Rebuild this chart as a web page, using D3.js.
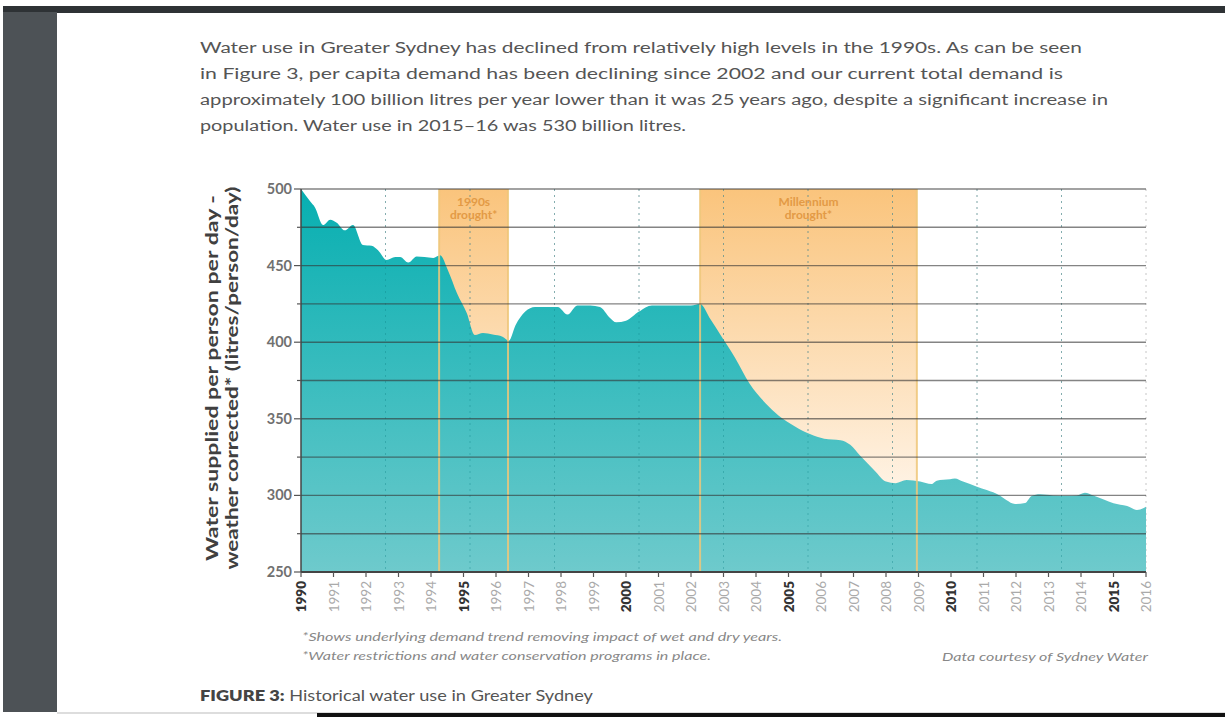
<!DOCTYPE html>
<html>
<head>
<meta charset="utf-8">
<script src="https://cdn.jsdelivr.net/npm/d3@7"></script>
<style>
  html, body { margin: 0; padding: 0; background: #fff; }
  svg { display: block; }
</style>
</head>
<body>
<svg id="chart" width="1225" height="717"></svg>
<script>
// per capita demand, litres/person/day (weather corrected)
const years = [
  1990.0, 1990.28, 1990.43, 1990.68, 1990.9, 1991.1, 1991.35, 1991.6, 1991.9, 1992.17,
  1992.37, 1992.63, 1992.9, 1993.05, 1993.3, 1993.56, 1993.8, 1994.07, 1994.28, 1994.52,
  1994.8, 1995.1, 1995.35, 1995.6, 1995.9, 1996.2, 1996.4, 1996.6, 1996.9, 1997.2,
  1997.6, 1997.9, 1998.2, 1998.5, 1998.9, 1999.2, 1999.5, 1999.7, 2000.0, 2000.4,
  2000.8, 2001.2, 2001.6, 2002.0, 2002.28, 2002.6, 2002.9, 2003.35, 2003.8, 2004.3,
  2004.7, 2005.2, 2005.66, 2006.1, 2006.6, 2006.9, 2007.2, 2007.66, 2008.0, 2008.3,
  2008.63, 2009.05, 2009.4, 2009.56, 2009.97, 2010.12, 2010.37, 2010.8, 2011.1, 2011.5,
  2011.7, 2011.97, 2012.28, 2012.48, 2012.74, 2013.14, 2013.56, 2013.87, 2014.12, 2014.38,
  2014.7, 2015.0, 2015.42, 2015.72, 2016.0
]
const demand = [
  500, 492, 488, 476.5, 480, 478, 473, 476.5, 463.5, 463,
  460, 453.7, 455.6, 455.6, 452, 456, 455.6, 455, 456.7, 447,
  432, 419, 404.7, 406, 405, 403.6, 401, 411, 420, 423,
  423, 423, 418, 424, 424, 423, 416, 413, 414, 420,
  424, 424, 424, 424, 425, 415, 405, 390, 373, 360,
  352, 345, 340, 337, 336, 333, 326, 316, 309, 308,
  310, 309, 307.4, 309.6, 310.5, 311, 309, 305.7, 303.5, 300,
  297, 294.4, 295, 299.6, 300.7, 300, 299.8, 300, 301.8, 300,
  297.4, 294.8, 293, 290.5, 292.6
]
const droughts = [
  { name: ['1990s', 'drought*'], start: 1994.25, end: 1996.37 },
  { name: ['Millennium', 'drought*'], start: 2002.28, end: 2008.95 },
]
const yTicks = [250, 300, 350, 400, 450, 500]
const yMinorTicks = [275, 325, 375, 425, 475]
const tickYears = d3.range(1990, 2017)
const paragraph = [
  'Water use in Greater Sydney has declined from relatively high levels in the 1990s. As can be seen',
  'in Figure 3, per capita demand has been declining since 2002 and our current total demand is',
  'approximately 100 billion litres per year lower than it was 25 years ago, despite a significant increase in',
  'population. Water use in 2015\u201316 was 530 billion litres.',
]
const paragraphWidths = [882, 863, 908, 486]
const yTitle = ['Water supplied per person per day -', 'weather corrected* (litres/person/day)']
const footnotes = [
  '*Shows underlying demand trend removing impact of wet and dry years.',
  '*Water restrictions and water conservation programs in place.',
]

const svg = d3.select('#chart')
const FONT = 'Lato, "Open Sans", sans-serif'

// page frame (screenshot of a document)
svg.append('rect').attr('width', 1225).attr('height', 717).attr('fill', '#fff')
svg.append('rect').attr('x', 3).attr('y', 6).attr('width', 1222).attr('height', 7).attr('fill', '#2e3235')
svg.append('rect').attr('x', 3).attr('y', 12).attr('width', 54).attr('height', 700).attr('fill', '#4d5256')
svg.append('rect').attr('x', 57).attr('y', 712).attr('width', 1168).attr('height', 2).attr('fill', '#ddd')
svg.append('rect').attr('x', 317).attr('y', 713).attr('width', 908).attr('height', 4).attr('fill', '#111')

// intro paragraph
svg.append('g')
  .selectAll('text')
  .data(paragraph)
  .join('text')
  .attr('x', 200)
  .attr('y', (d, i) => 53 + i * 26)
  .attr('font-family', FONT)
  .attr('font-size', 15.5)
  .attr('fill', '#555')
  .attr('textLength', (d, i) => paragraphWidths[i])
  .attr('lengthAdjust', 'spacingAndGlyphs')
  .text((d) => d)

// chart area
const margin = { left: 301, top: 189, right: 1146, bottom: 572 }
const x = d3.scaleLinear().domain([1990, 2016]).range([margin.left, margin.right])
const y = d3.scaleLinear().domain([250, 500]).range([margin.bottom, margin.top])

const defs = svg.append('defs')
const teal = defs.append('linearGradient').attr('id', 'teal')
  .attr('gradientUnits', 'userSpaceOnUse')
  .attr('x1', 0).attr('x2', 0).attr('y1', y(500)).attr('y2', y(250))
teal.append('stop').attr('offset', 0).attr('stop-color', '#07afb1')
teal.append('stop').attr('offset', 1).attr('stop-color', '#6ecacc')

const orange = defs.append('linearGradient').attr('id', 'orange')
  .attr('gradientUnits', 'userSpaceOnUse')
  .attr('x1', 0).attr('x2', 0).attr('y1', y(500)).attr('y2', y(290))
orange.append('stop').attr('offset', 0).attr('stop-color', '#fac47c')
orange.append('stop').attr('offset', 1).attr('stop-color', '#fff6ec')

const chart = svg.append('g').attr('id', 'viz')

// drought bands
chart.append('g')
  .selectAll('rect')
  .data(droughts)
  .join('rect')
  .attr('x', (d) => x(d.start))
  .attr('y', y(500))
  .attr('width', (d) => x(d.end) - x(d.start))
  .attr('height', y(250) - y(500))
  .attr('fill', 'url(#orange)')

// dotted verticals (ten equal divisions)
chart.append('g')
  .selectAll('line')
  .data(d3.range(1, 11))
  .join('line')
  .attr('x1', (d) => x(1990 + d * 2.6))
  .attr('x2', (d) => x(1990 + d * 2.6))
  .attr('y1', y(500))
  .attr('y2', y(250))
  .attr('stroke', '#9a9a9a')
  .attr('stroke-width', 1)
  .attr('stroke-dasharray', '2,4')
  .attr('opacity', 0.55)

// demand area
const area = d3.area()
  .x((d, i) => x(years[i]))
  .y0(y(250))
  .y1((d) => y(d))
  .curve(d3.curveMonotoneX)

chart.append('path')
  .datum(demand)
  .attr('d', area)
  .attr('fill', 'url(#teal)')

// dotted verticals over the teal
chart.append('g')
  .selectAll('line')
  .data(d3.range(1, 10))
  .join('line')
  .attr('x1', (d) => x(1990 + d * 2.6))
  .attr('x2', (d) => x(1990 + d * 2.6))
  .attr('y1', y(500))
  .attr('y2', y(250))
  .attr('stroke', '#0a7f83')
  .attr('stroke-width', 1)
  .attr('stroke-dasharray', '2,4')
  .attr('opacity', 0.35)

// drought band edges
chart.append('g')
  .selectAll('line')
  .data(droughts.flatMap((d) => [d.start, d.end]))
  .join('line')
  .attr('x1', (d) => x(d))
  .attr('x2', (d) => x(d))
  .attr('y1', y(500))
  .attr('y2', y(250))
  .attr('stroke', '#efc77a')
  .attr('stroke-width', 2)
  .attr('opacity', 0.85)

// horizontal gridlines
chart.append('g')
  .selectAll('line')
  .data(yTicks.concat(yMinorTicks).filter((d) => d > 250))
  .join('line')
  .attr('x1', margin.left)
  .attr('x2', margin.right)
  .attr('y1', (d) => y(d))
  .attr('y2', (d) => y(d))
  .attr('stroke', '#333')
  .attr('stroke-width', 1.4)
  .attr('opacity', 0.6)

// drought labels
const bandLabels = chart.append('g')
  .selectAll('text')
  .data(droughts)
  .join('text')
  .attr('x', (d) => x((d.start + d.end) / 2))
  .attr('y', 206)
  .attr('text-anchor', 'middle')
  .attr('font-family', FONT)
  .attr('font-size', 12)
  .attr('font-weight', 700)
  .attr('fill', '#e39a45')
bandLabels.selectAll('tspan')
  .data((d) => d.name)
  .join('tspan')
  .attr('x', function () { return d3.select(this.parentNode).attr('x') })
  .attr('dy', (d, i) => (i === 0 ? 0 : 13))
  .text((d) => d)

// y axis
const yAxis = chart.append('g')
yAxis.append('line')
  .attr('x1', margin.left).attr('x2', margin.left)
  .attr('y1', y(500)).attr('y2', y(250))
  .attr('stroke', '#444').attr('stroke-width', 1.5)
yAxis.selectAll('line.major')
  .data(yTicks)
  .join('line')
  .attr('class', 'major')
  .attr('x1', margin.left - 7).attr('x2', margin.left)
  .attr('y1', (d) => y(d)).attr('y2', (d) => y(d))
  .attr('stroke', '#555').attr('stroke-width', 1.2)
yAxis.selectAll('line.minor')
  .data(yMinorTicks)
  .join('line')
  .attr('class', 'minor')
  .attr('x1', margin.left - 4).attr('x2', margin.left)
  .attr('y1', (d) => y(d)).attr('y2', (d) => y(d))
  .attr('stroke', '#555').attr('stroke-width', 1.2)
yAxis.selectAll('text')
  .data(yTicks)
  .join('text')
  .attr('x', margin.left - 9)
  .attr('y', (d) => y(d) + 5)
  .attr('text-anchor', 'end')
  .attr('font-family', FONT)
  .attr('font-size', 14.5)
  .attr('font-weight', 700)
  .attr('fill', '#707070')
  .text((d) => d)

// y axis title
svg.append('g')
  .selectAll('text')
  .data(yTitle)
  .join('text')
  .attr('transform', (d, i) => `translate(${218 + i * 20},${378}) rotate(-90)`)
  .attr('text-anchor', 'middle')
  .attr('font-family', FONT)
  .attr('font-size', 17)
  .attr('font-weight', 700)
  .attr('fill', '#404040')
  .attr('textLength', (d, i) => (i === 0 ? 366 : 383))
  .attr('lengthAdjust', 'spacingAndGlyphs')
  .text((d) => d)

// x axis
const xAxis = chart.append('g')
xAxis.append('line')
  .attr('x1', margin.left).attr('x2', margin.right)
  .attr('y1', y(250)).attr('y2', y(250))
  .attr('stroke', '#444').attr('stroke-width', 1.8)
xAxis.selectAll('line.tick')
  .data(tickYears)
  .join('line')
  .attr('class', 'tick')
  .attr('x1', (d) => x(d)).attr('x2', (d) => x(d))
  .attr('y1', y(250)).attr('y2', y(250) + 5)
  .attr('stroke', '#555').attr('stroke-width', 1.2)
xAxis.selectAll('text')
  .data(tickYears)
  .join('text')
  .attr('transform', (d) => `translate(${x(d) + 5},${y(250) + 9}) rotate(-90)`)
  .attr('text-anchor', 'end')
  .attr('font-family', FONT)
  .attr('font-size', 13.5)
  .attr('font-weight', (d) => (d % 5 === 0 ? 800 : 400))
  .attr('fill', (d) => (d % 5 === 0 ? '#333' : '#aaa'))
  .text((d) => d)

// footnotes
svg.append('g')
  .selectAll('text')
  .data(footnotes)
  .join('text')
  .attr('x', 302)
  .attr('y', (d, i) => 641 + i * 19)
  .attr('font-family', FONT)
  .attr('font-size', 11.5)
  .attr('font-style', 'italic')
  .attr('fill', '#888')
  .attr('textLength', (d, i) => (i === 0 ? 480 : 409))
  .attr('lengthAdjust', 'spacingAndGlyphs')
  .text((d) => d)

svg.append('text')
  .attr('x', 942)
  .attr('y', 661)
  .attr('font-family', FONT)
  .attr('font-size', 12)
  .attr('font-style', 'italic')
  .attr('fill', '#888')
  .attr('textLength', 206)
  .attr('lengthAdjust', 'spacingAndGlyphs')
  .text('Data courtesy of Sydney Water')

// figure caption
const caption = svg.append('text')
  .attr('x', 200)
  .attr('y', 701)
  .attr('font-family', FONT)
  .attr('font-size', 14.5)
  .attr('fill', '#555')
  .attr('textLength', 393)
  .attr('lengthAdjust', 'spacingAndGlyphs')
caption.append('tspan').attr('font-weight', 800).attr('fill', '#444').text('FIGURE 3:')
caption.append('tspan').text(' Historical water use in Greater Sydney')
</script>
</body>
</html>
